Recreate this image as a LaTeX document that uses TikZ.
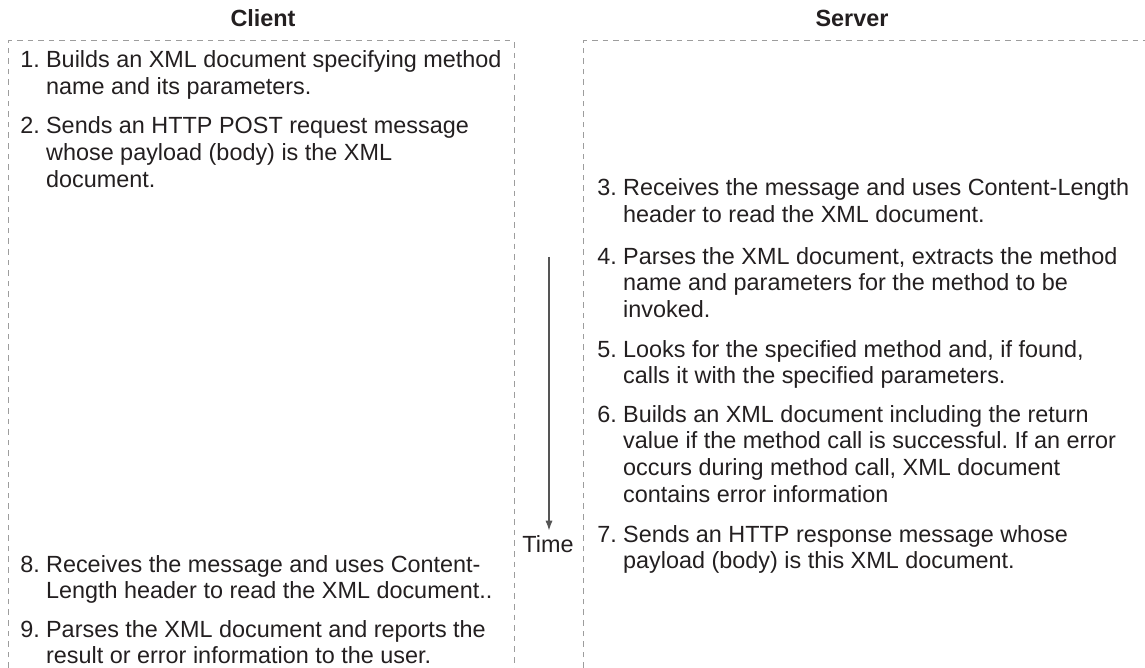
\documentclass[tikz,border=0pt]{standalone}
\usepackage{fontspec}
\setmainfont{Liberation Sans}
\usepackage{tikz}
\usetikzlibrary{arrows.meta}
\definecolor{ink}{HTML}{231F20}
\definecolor{laneline}{HTML}{9D9D9D}
\definecolor{timeline}{HTML}{555555}
\frenchspacing
% number, then the text hanging under it
\newcommand\stepnote[2]{\makebox[1.1em][l]{#1}\parbox[t]{25em}{#2}}

\begin{document}
\begin{tikzpicture}[x=0.5pt, y=-0.5pt,
  every node/.style={text=ink, font=\fontsize{11.7}{13.4}\selectfont},
  lane/.style={draw=laneline, line width=0.5pt, dash pattern=on 2.8pt off 2.5pt},
  header/.style={anchor=base, inner sep=0pt, font=\fontsize{11.7}{13.4}\selectfont\bfseries},
  note/.style={anchor=base west, inner sep=0pt},
  timearrow/.style={draw=timeline, line width=0.7pt, -{Latex[length=5pt, width=3.6pt]}}]
  \useasboundingbox (0,0) rectangle (1145,668);

  % lanes
  \draw[lane] (8,668) -- (8,41) -- (514,41) -- (514,668);
  \draw[lane] (583,668) -- (583,41) -- (1145,41);
  \node[header] (client) at (263,27) {Client};
  \node[header] (server) at (852,27) {Server};

  % client side
  \node[note] (c1) at (20,68) {\stepnote{1.}{Builds an XML document specifying method\\
    name and its parameters.}};
  \node[note] (c2) at (20,134) {\stepnote{2.}{Sends an HTTP POST request message\\
    whose payload (body) is the XML\\ document.}};
  \node[note] (c8) at (20,572) {\stepnote{8.}{Receives the message and uses Content-\\
    Length header to read the XML document..}};
  \node[note] (c9) at (20,637) {\stepnote{9.}{Parses the XML document and reports the\\
    result or error information to the user.}};

  % server side
  \node[note] (s3) at (597,196) {\stepnote{3.}{Receives the message and uses Content-Length\\
    header to read the XML document.}};
  \node[note] (s4) at (597,264) {\stepnote{4.}{Parses the XML document, extracts the method\\
    name and parameters for the method to be\\ invoked.}};
  \node[note] (s5) at (597,357) {\stepnote{5.}{Looks for the specified method and, if found,\\
    calls it with the specified parameters.}};
  \node[note] (s6) at (597,422) {\stepnote{6.}{Builds an XML document including the return\\
    value if the method call is successful. If an error\\
    occurs during method call, XML document\\ contains error information}};
  \node[note] (s7) at (597,542) {\stepnote{7.}{Sends an HTTP response message whose\\
    payload (body) is this XML document.}};

  % time
  \node[inner sep=2pt, anchor=base] (time) at (548,552) {Time};
  \coordinate (tstart) at (549,257);
  \draw[timearrow] (tstart) -- (time.north -| tstart);
\end{tikzpicture}
\end{document}
